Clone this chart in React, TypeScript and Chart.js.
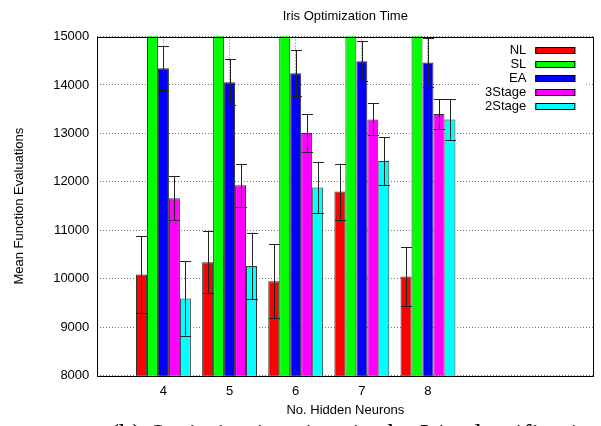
import React, { useEffect, useRef } from "react";
import { Chart, registerables } from "chart.js";

Chart.register(...registerables);

// ---- data ----
const neurons = [4, 5, 6, 7, 8];
const seriesNames = ["NL", "SL", "EA", "3Stage", "2Stage"];
const seriesColors = ["#ff0000", "#00ff00", "#0000ff", "#ff00ff", "#00ffff"];

const nlMean = [10086, 10340, 9949, 11800, 10045];
const nlErr = [790, 640, 765, 577, 614];
const slMean = [16200, 16000, 16300, 16100, 16200];
const slErr = [600, 600, 600, 600, 600];
const eaMean = [14346, 14058, 14243, 14490, 14462];
const eaErr = [450, 480, 480, 408, 498];
const s3Mean = [11663, 11930, 13008, 13288, 13399];
const s3Err = [460, 440, 390, 330, 305];
const s2Mean = [9593, 10263, 11883, 12432, 13288];
const s2Err = [765, 690, 530, 495, 415];

const yTickValues = [8000, 9000, 10000, 11000, 12000, 13000, 14000, 15000];

const chartTitle = "Iris Optimization Time";
const xTitle = "No. Hidden Neurons";
const yTitle = "Mean Function Evaluations";
const caption = "(b) Optimization time in the Iris classification";

const means = [nlMean, slMean, eaMean, s3Mean, s2Mean];
const errs = [nlErr, slErr, eaErr, s3Err, s2Err];

const FONT = "'Liberation Sans', Arial, Helvetica, sans-serif";

const titlePlugin = {
  id: "plotTitle",
  afterDraw(chart: any) {
    const { ctx, chartArea } = chart;
    ctx.save();
    ctx.fillStyle = "#000";
    ctx.font = `13px ${FONT}`;
    ctx.textAlign = "center";
    ctx.textBaseline = "middle";
    ctx.fillText(chartTitle, (chartArea.left + chartArea.right) / 2, 16);
    ctx.restore();
  },
};

const errorBarPlugin = {
  id: "errorBars",
  afterDatasetsDraw(chart: any) {
    const { ctx, chartArea } = chart;
    const yScale = chart.scales.y;
    ctx.save();
    ctx.beginPath();
    ctx.rect(chartArea.left, chartArea.top, chartArea.right - chartArea.left, chartArea.bottom - chartArea.top);
    ctx.clip();
    ctx.strokeStyle = "#222";
    ctx.lineWidth = 1;
    chart.data.datasets.forEach((ds: any, di: number) => {
      const meta = chart.getDatasetMeta(di);
      meta.data.forEach((bar: any, i: number) => {
        const m = means[di][i];
        const e = errs[di][i];
        const x = Math.round(bar.x) + 0.5;
        const yTop = yScale.getPixelForValue(m + e);
        const yBot = yScale.getPixelForValue(m - e);
        const hw = bar.width / 2;
        ctx.beginPath();
        ctx.moveTo(x, yTop);
        ctx.lineTo(x, yBot);
        ctx.moveTo(x - hw, Math.round(yTop) + 0.5);
        ctx.lineTo(x + hw, Math.round(yTop) + 0.5);
        ctx.moveTo(x - hw, Math.round(yBot) + 0.5);
        ctx.lineTo(x + hw, Math.round(yBot) + 0.5);
        ctx.stroke();
      });
    });
    ctx.restore();
  },
};

const legendFramePlugin = {
  id: "legendFrame",
  afterDatasetsDraw(chart: any) {
    const { ctx, chartArea } = chart;
    ctx.save();
    // opaque key box
    const boxRight = chartArea.right - 7;
    ctx.fillStyle = "#fff";
    ctx.fillRect(boxRight - 106, chartArea.top + 5, 106, 74);
    ctx.font = `13px ${FONT}`;
    ctx.textAlign = "right";
    ctx.textBaseline = "middle";
    const swRight = chartArea.right - 18;
    const swW = 40;
    const swH = 7;
    chart.data.datasets.forEach((ds: any, i: number) => {
      const cy = chartArea.top + 13.5 + i * 14.2;
      ctx.fillStyle = "#000";
      ctx.fillText(ds.label, swRight - swW - 9, cy);
      const top = Math.round(cy - swH / 2);
      ctx.fillStyle = ds.backgroundColor;
      ctx.fillRect(swRight - swW, top, swW, swH);
      ctx.strokeStyle = "#000";
      ctx.lineWidth = 1;
      ctx.strokeRect(swRight - swW + 0.5, top + 0.5, swW - 1, swH - 1);
    });
    // frame
    ctx.strokeStyle = "#000";
    ctx.lineWidth = 1;
    ctx.strokeRect(
      Math.round(chartArea.left) + 0.5,
      Math.round(chartArea.top) + 0.5,
      Math.round(chartArea.right - chartArea.left),
      Math.round(chartArea.bottom - chartArea.top)
    );
    ctx.restore();
  },
};

export default function App() {
  const canvasRef = useRef<HTMLCanvasElement | null>(null);

  useEffect(() => {
    if (!canvasRef.current) return;
    const datasets = seriesNames.map((name, si) => ({
      label: name,
      data: neurons.map((n, i) => ({ x: n, y: means[si][i] })),
      backgroundColor: seriesColors[si],
      borderColor: "#333",
      borderWidth: 1,
      barPercentage: 1.0,
      categoryPercentage: 0.83,
    }));

    const chart = new Chart(canvasRef.current, {
      type: "bar",
      data: { datasets },
      plugins: [titlePlugin, errorBarPlugin, legendFramePlugin],
      options: {
        animation: false,
        responsive: false,
        devicePixelRatio: 1,
        layout: { padding: { top: 36.5, right: 7.7, bottom: 0, left: 0 } },
        plugins: {
          legend: { display: false },
          title: { display: false },
          tooltip: { enabled: false },
        },
        scales: {
          x: {
            type: "linear",
            min: 3,
            max: 10.5,
            offset: false,
            afterBuildTicks: (scale: any) => {
              scale.ticks = neurons.map((v) => ({ value: v }));
            },
            afterFit: (scale: any) => {
              scale.height = 426 - 375.7;
            },
            ticks: {
              color: "#000",
              font: { family: FONT, size: 13 },
              padding: 8,
              callback: (v: any) => String(v),
            },
            grid: {
              display: true,
              offset: false,
              drawTicks: false,
              color: "rgba(0,0,0,0.55)",
              lineWidth: 1,
            },
            border: { display: false, dash: [1, 2] },
            title: {
              display: true,
              text: xTitle,
              color: "#000",
              font: { family: FONT, size: 13 },
              padding: { top: 0, bottom: 8 },
            },
          },
          y: {
            type: "linear",
            min: 8000,
            max: 15000,
            afterBuildTicks: (scale: any) => {
              scale.ticks = yTickValues.map((v) => ({ value: v }));
            },
            afterFit: (scale: any) => {
              scale.width = 97.3;
            },
            ticks: {
              color: "#000",
              font: { family: FONT, size: 13 },
              padding: 8,
              callback: (v: any) => String(v),
            },
            grid: {
              display: true,
              drawTicks: false,
              color: "rgba(0,0,0,0.55)",
              lineWidth: 1,
            },
            border: { display: false, dash: [1, 2] },
            title: {
              display: true,
              text: yTitle,
              color: "#000",
              font: { family: FONT, size: 13 },
              padding: { top: 12, bottom: 0 },
            },
          },
        },
      } as any,
    });
    return () => chart.destroy();
  }, []);

  return (
    <div
      style={{
        position: "fixed",
        left: 0,
        top: 0,
        width: 601,
        height: 426,
        overflow: "hidden",
        background: "#fff",
      }}
    >
      <canvas ref={canvasRef} width={601} height={426} style={{ display: "block" }} />
      <div
        style={{
          position: "absolute",
          left: 110,
          top: 421,
          whiteSpace: "nowrap",
          fontFamily: "'Liberation Serif', 'Times New Roman', serif",
          fontSize: 27,
          lineHeight: "27px",
          color: "#000",
        }}
      >
        {caption}
      </div>
    </div>
  );
}
